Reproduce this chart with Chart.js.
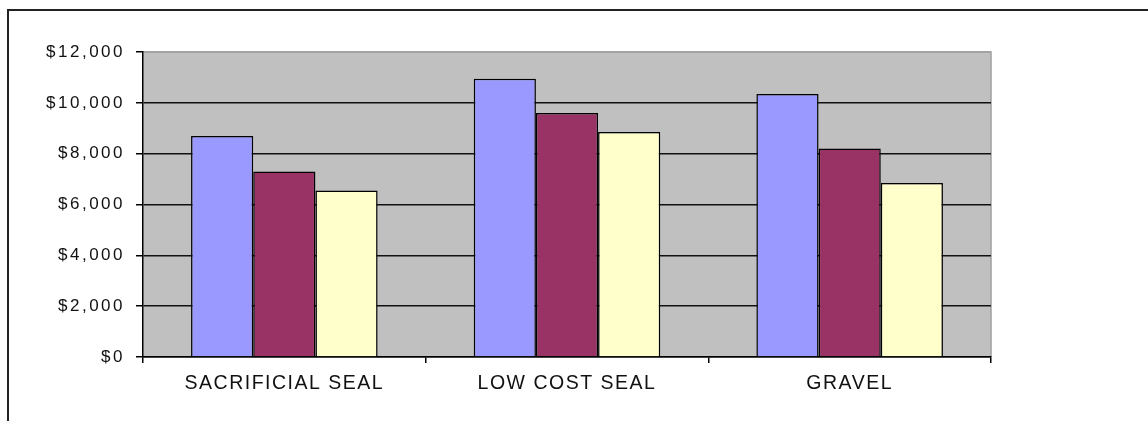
<!DOCTYPE html>
<html>
<head>
<meta charset="utf-8">
<script src="https://cdn.jsdelivr.net/npm/chart.js@4/dist/chart.umd.min.js"></script>
<style>
    html, body { margin: 0; padding: 0; background: #fff; overflow: hidden; }
    #wrap { position: relative; width: 1148px; height: 421px; overflow: hidden; }
    #frame {
        position: absolute; left: 7px; top: 9px; width: 2000px; height: 2000px;
        border-left: 2px solid #222; border-top: 2px solid #222;
    }
    #chart { position: absolute; left: 0; top: 0; }
</style>
</head>
<body>
<div id="wrap">
    <div id="frame"></div>
    <canvas id="chart" width="1148" height="421"></canvas>
</div>
<script>
const categories = ["SACRIFICIAL SEAL", "LOW COST SEAL", "GRAVEL"];
const seriesNames = ["Series1", "Series2", "Series3"];
const series1 = [8700, 10950, 10350];
const series2 = [7300, 9600, 8200];
const series3 = [6550, 8850, 6850];
const yTicks = [0, 2000, 4000, 6000, 8000, 10000, 12000];

const colors = ["#9999ff", "#993366", "#ffffcc"];

// grey plot area with a light frame on top and right
const plotBackground = {
    id: "plotBackground",
    beforeDraw(chart) {
        const { ctx, chartArea: a } = chart;
        ctx.save();
        ctx.fillStyle = "#c0c0c0";
        ctx.fillRect(a.left, a.top, a.right - a.left, a.bottom - a.top);
        ctx.strokeStyle = "#a0a0a0";
        ctx.lineWidth = 1.5;
        ctx.beginPath();
        ctx.moveTo(a.left, a.top);
        ctx.lineTo(a.right, a.top);
        ctx.lineTo(a.right, a.bottom);
        ctx.stroke();
        ctx.restore();

        // the old picture has wide lettering, so space the axis labels out
        const spacing = { x: "1.5px", y: "2.5px" };
        Object.values(chart.scales).forEach(scale => {
            if (scale._spaced) return;
            const orig = scale.drawLabels.bind(scale);
            scale.drawLabels = function (area) {
                this.ctx.save();
                this.ctx.letterSpacing = spacing[this.id] || "0px";
                orig(area);
                this.ctx.restore();
            };
            scale._spaced = true;
        });
    }
};

const ctx = document.getElementById("chart").getContext("2d");

new Chart(ctx, {
    type: "bar",
    data: {
        labels: categories,
        datasets: [series1, series2, series3].map((data, i) => ({
            label: seriesNames[i],
            data: data,
            backgroundColor: colors[i],
            borderColor: "#000",
            borderWidth: 1.5,
            barPercentage: 1,
            categoryPercentage: 0.66
        }))
    },
    options: {
        responsive: false,
        animation: false,
        layout: { padding: { top: 52, right: 157, bottom: 0, left: 0 } },
        plugins: {
            legend: { display: false },
            tooltip: { enabled: false }
        },
        scales: {
            x: {
                grid: {
                    offset: true,
                    drawOnChartArea: false,
                    drawTicks: true,
                    tickLength: 6,
                    tickColor: "#000",
                    lineWidth: 1.5
                },
                border: { color: "#000", width: 1.5 },
                ticks: {
                    color: "#111",
                    padding: 9,
                    font: { family: "'Liberation Sans', Arial, sans-serif", size: 19.5 }
                },
                afterFit(scale) { scale.height = 64; }
            },
            y: {
                min: 0,
                max: 12000,
                afterBuildTicks(scale) {
                    scale.ticks = yTicks.map(v => ({ value: v }));
                },
                grid: {
                    color: c => (c.tick && c.tick.value === 12000 ? "#a0a0a0" : "#111"),
                    lineWidth: 1.5,
                    tickLength: 7,
                    tickColor: "#000"
                },
                border: { color: "#000", width: 1.5 },
                ticks: {
                    color: "#111",
                    padding: 11,
                    font: { family: "'Liberation Sans', Arial, sans-serif", size: 17 },
                    callback: v => "$" + v.toLocaleString("en-US")
                },
                afterFit(scale) { scale.width = 143; }
            }
        }
    },
    plugins: [plotBackground]
});
</script>
</body>
</html>
